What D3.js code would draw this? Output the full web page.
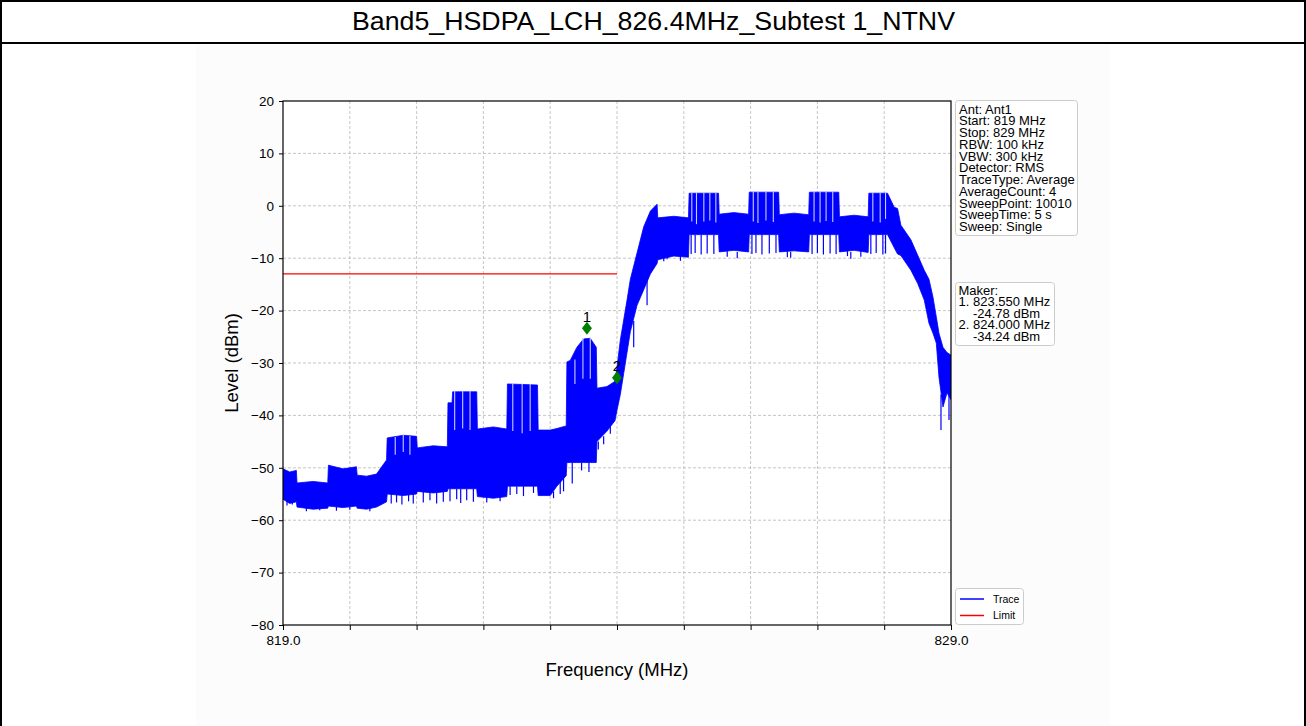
<!DOCTYPE html>
<html><head><meta charset="utf-8">
<script src="https://cdn.jsdelivr.net/npm/d3@7"></script>
<style>body{margin:0;background:#fff} svg{display:block} text{font-family:"Liberation Sans",Arial,Helvetica,sans-serif}</style>
</head><body><svg id="c" width="1306" height="726"></svg>
<script>
const titleText = "Band5_HSDPA_LCH_826.4MHz_Subtest 1_NTNV";
const xDomain = [819, 829];
const yDomain = [-80, 20];
const xTickVals = [819,820,821,822,823,824,825,826,827,828,829];
const xTickLabels = {819:"819.0", 829:"829.0"};
const yTickVals = [-80,-70,-60,-50,-40,-30,-20,-10,0,10,20];

// trace envelope (max / min of the dense trace)
const traceFreq = [819.00,819.10,819.20,819.21,819.45,819.67,819.68,819.90,820.10,820.11,820.25,820.40,820.55,820.56,820.80,821.00,821.01,821.25,821.46,821.47,821.53,821.54,821.90,821.91,822.15,822.35,822.36,822.81,822.82,823.00,823.10,823.24,823.25,823.30,823.40,823.50,823.60,823.69,823.70,823.85,823.97,824.00,824.05,824.10,824.15,824.20,824.30,824.40,824.50,824.60,824.61,824.85,825.07,825.08,825.52,825.53,825.75,825.97,825.98,826.42,826.43,826.65,826.87,826.88,827.32,827.33,827.55,827.76,827.77,828.05,828.15,828.20,828.25,828.40,828.50,828.60,828.67,828.73,828.78,828.82,828.88,828.94,829.00];
const traceHi = [-50.2,-50.8,-50.5,-52.9,-52.6,-52.9,-49.5,-50.2,-49.8,-51.4,-51.6,-51.2,-48.5,-44.3,-43.8,-44.0,-46.2,-45.8,-46.0,-37.6,-37.6,-35.5,-35.5,-42.6,-42.2,-42.6,-34.0,-34.2,-42.8,-42.8,-42.5,-42.0,-29.8,-29.5,-27.0,-25.4,-25.3,-27.0,-34.8,-34.5,-33.5,-30.8,-25.6,-21.8,-18.0,-14.0,-9.0,-4.0,-1.0,0.3,-2.3,-2.0,-2.3,2.4,2.4,-1.6,-1.3,-1.6,2.6,2.6,-1.7,-1.4,-1.7,2.6,2.6,-2.1,-1.8,-2.1,2.4,2.4,-0.3,-0.5,-3.7,-6.5,-9.4,-12.3,-14.0,-17.4,-21.2,-24.3,-27.0,-28.0,-28.5];
const traceLo = [-56.0,-56.8,-56.5,-57.5,-57.9,-57.7,-57.3,-57.6,-57.3,-57.7,-57.9,-57.5,-56.5,-55.0,-55.3,-55.0,-54.5,-54.8,-54.5,-54.0,-54.0,-54.0,-54.0,-55.5,-55.8,-55.5,-53.5,-53.5,-55.3,-55.3,-53.5,-51.5,-49.0,-49.0,-49.0,-49.0,-49.0,-49.0,-45.0,-43.0,-41.0,-39.0,-36.0,-32.0,-28.0,-24.0,-19.0,-16.0,-13.0,-11.0,-10.3,-9.6,-9.8,-5.5,-5.5,-8.8,-8.5,-8.8,-5.5,-5.5,-8.8,-8.6,-8.8,-5.5,-5.5,-8.8,-8.5,-8.9,-5.5,-5.5,-8.0,-9.2,-9.5,-12.3,-14.8,-18.0,-22.4,-24.3,-26.2,-32.7,-38.4,-35.7,-37.0];

// downward dropouts of the trace
const spikeFreq = [819.06,819.14,820.62,820.70,820.78,820.88,820.95,821.10,821.20,821.30,821.40,821.50,821.60,821.66,821.75,821.85,822.40,822.50,822.60,822.75,823.05,823.15,823.20,823.33,823.47,823.58,823.72,823.80,823.90,824.25,824.45,825.11,825.17,825.26,825.35,825.45,826.02,826.08,826.17,826.28,826.38,826.92,827.00,827.09,827.19,827.28,827.80,827.88,827.98,828.02,824.75,825.80,826.60,827.50,828.85,828.97,819.35,819.55,819.80,820.00,820.30,822.05,822.25,824.70,824.95,825.65,826.55,827.45,827.65];
const spikeTop = [-56.0,-56.3,-55,-55,-55,-55,-55,-54.5,-54.5,-54.5,-54.5,-54,-54,-54,-54,-54,-53.5,-53.5,-53.5,-53.5,-54.5,-52.5,-52,-49,-49,-49,-45,-44,-42,-22,-14,-5.5,-5.5,-5.5,-5.5,-5.5,-5.5,-5.5,-5.5,-5.5,-5.5,-5.5,-5.5,-5.5,-5.5,-5.5,-5.5,-5.5,-5.5,-5.5,-9.5,-8.8,-8.8,-8.8,-36,-36,-57.5,-57.5,-57.3,-57.3,-57.6,-55.5,-55.5,-9.5,-9.6,-8.6,-8.6,-8.6,-8.6];
const spikeBottom = [-57.2,-57.0,-56.8,-56.6,-57.0,-56.4,-56.8,-56.6,-56.2,-56.8,-56.5,-56.4,-56.0,-56.7,-56.2,-56.5,-55.2,-55.0,-55.4,-54.8,-55.8,-55.0,-54.5,-53.0,-50.5,-50.8,-46.5,-45.5,-43.5,-27,-19,-9.2,-9.0,-9.3,-9.1,-9.2,-9.2,-9.0,-9.3,-9.1,-9.0,-9.2,-9.0,-9.3,-9.1,-9.2,-9.2,-9.0,-9.3,-9.1,-10.2,-10.0,-9.9,-10.1,-42.8,-40.9,-58.3,-58.1,-58.2,-58.0,-58.3,-56.6,-56.4,-10.6,-10.5,-9.7,-9.8,-9.6,-9.7];

// short gaps of the burst tops
const gapFreq = [820.68,820.80,820.90,821.57,821.69,821.80,822.44,822.58,822.70,823.37,823.49,823.60,825.12,825.19,825.30,825.39,825.48,826.04,826.11,826.23,826.34,826.95,827.04,827.13,827.23,827.83,827.94,828.02];
const gapTop = [-44.3,-43.8,-44.1,-35.5,-35.5,-35.5,-34.0,-34.1,-34.2,-29.5,-25.4,-25.3,2.4,2.4,2.4,2.4,2.4,2.6,2.6,2.6,2.6,2.6,2.6,2.6,2.6,2.4,2.4,2.4];
const gapBottom = [-47.5,-47.0,-47.5,-42.8,-42.5,-42.8,-43.0,-43.4,-43.0,-34.0,-33.0,-33.0,-3.0,-3.5,-3.0,-2.8,-3.2,-3.0,-3.3,-2.8,-3.1,-3.0,-3.2,-2.9,-3.1,-3.0,-3.2,-2.5];

const limitFreq = [819, 824];
const limitVal = [-13, -13];

const markerFreq = [823.55, 824.0];
const markerVal = [-24.78, -34.24];
const markerName = ["1", "2"];

const infoLines = ["Ant: Ant1","Start: 819 MHz","Stop: 829 MHz","RBW: 100 kHz","VBW: 300 kHz","Detector: RMS","TraceType: Average","AverageCount: 4","SweepPoint: 10010","SweepTime: 5 s","Sweep: Single"];
const legendNames = ["Trace", "Limit"];
const legendColors = ["#0000ff", "#ff0000"];

const svg = d3.select("#c");
const W = 1306, H = 726;

// page frame & title
svg.append("rect").attr("x",0).attr("y",0).attr("width",W).attr("height",H).attr("fill","#fff");
svg.append("rect").attr("x",196).attr("y",45).attr("width",914).attr("height",H-45).attr("fill","#fcfcfc");
svg.append("line").attr("x1",0).attr("x2",W).attr("y1",1).attr("y2",1).attr("stroke","#000").attr("stroke-width",2);
svg.append("line").attr("x1",0).attr("x2",W).attr("y1",43).attr("y2",43).attr("stroke","#000").attr("stroke-width",2);
svg.append("line").attr("x1",1).attr("x2",1).attr("y1",0).attr("y2",H).attr("stroke","#000").attr("stroke-width",2);
svg.append("line").attr("x1",W-1).attr("x2",W-1).attr("y1",0).attr("y2",H).attr("stroke","#000").attr("stroke-width",2);
svg.append("text").attr("x",653.5).attr("y",30).attr("text-anchor","middle").attr("font-size",25)
  .attr("textLength",603).attr("lengthAdjust","spacingAndGlyphs").attr("fill","#000").text(titleText);

const L = 283, R = 951, T = 101, B = 625;
const x = d3.scaleLinear(xDomain, [L, R]);
const y = d3.scaleLinear(yDomain, [B, T]);

svg.append("rect").attr("x",L).attr("y",T).attr("width",R-L).attr("height",B-T).attr("fill","#fff");

// grid
const grid = svg.append("g").attr("stroke","#b8b8b8").attr("stroke-width",0.8).attr("stroke-dasharray","3,2");
grid.selectAll("line.v").data(xTickVals.slice(1,-1)).join("line")
  .attr("x1",d=>x(d)).attr("x2",d=>x(d)).attr("y1",T).attr("y2",B);
grid.selectAll("line.h").data(yTickVals.slice(1,-1)).join("line")
  .attr("y1",d=>y(d)).attr("y2",d=>y(d)).attr("x1",L).attr("x2",R);

// trace
const pts = traceFreq.map((f,i)=>({f, hi:traceHi[i], lo:traceLo[i]}));
svg.append("clipPath").attr("id","pc").append("rect").attr("x",L).attr("y",T).attr("width",R-L).attr("height",B-T);
const pg = svg.append("g").attr("clip-path","url(#pc)");
pg.append("path").datum(pts).attr("fill","#0000ff").attr("stroke","#0000ff").attr("stroke-width",0.8)
  .attr("d", d3.area().x(d=>x(d.f)).y0(d=>y(d.lo)).y1(d=>y(d.hi)));
pg.selectAll("line.spike").data(spikeFreq).join("line").attr("class","spike")
  .attr("x1",d=>x(d)).attr("x2",d=>x(d)).attr("y1",(d,i)=>y(spikeTop[i])).attr("y2",(d,i)=>y(spikeBottom[i]))
  .attr("stroke","#0000ff").attr("stroke-width",1.2);
pg.selectAll("line.gap").data(gapFreq).join("line").attr("class","gap")
  .attr("x1",d=>x(d)).attr("x2",d=>x(d)).attr("y1",(d,i)=>y(gapTop[i])-1).attr("y2",(d,i)=>y(gapBottom[i]))
  .attr("stroke","#c8ccff").attr("stroke-width",1.1);

// limit
pg.append("path").datum(limitFreq.map((f,i)=>[f,limitVal[i]])).attr("fill","none").attr("stroke","#ff0000").attr("stroke-width",1.2)
  .attr("d", d3.line().x(d=>x(d[0])).y(d=>y(d[1])));

// markers
const mk = svg.append("g");
markerFreq.forEach((f,i)=>{
  const cx = x(f), cy = y(markerVal[i]) - 7.5;
  mk.append("path").attr("d",`M${cx},${cy-6.5}L${cx+5},${cy}L${cx},${cy+6.5}L${cx-5},${cy}Z`).attr("fill","#008000");
  mk.append("text").attr("x",cx).attr("y",cy-6.5).attr("text-anchor","middle").attr("font-size",15).attr("fill","#000").text(markerName[i]);
});

// frame
svg.append("rect").attr("x",L).attr("y",T).attr("width",R-L).attr("height",B-T).attr("fill","none").attr("stroke","#000").attr("stroke-width",1.2);

// axes
const fmtY = d => d < 0 ? "\u2212" + Math.abs(d) : String(d);
const ya = svg.append("g").attr("transform",`translate(${L},0)`)
  .call(d3.axisLeft(y).tickValues(yTickVals).tickSize(4).tickPadding(5).tickFormat(fmtY));
ya.select(".domain").remove();
ya.selectAll("text").attr("font-size",13.5).attr("font-family","Liberation Sans, Arial, sans-serif").attr("fill","#000");
const xa = svg.append("g").attr("transform",`translate(0,${B})`)
  .call(d3.axisBottom(x).tickValues(xTickVals).tickSize(5).tickPadding(5).tickFormat(d=>xTickLabels[d]||""));
xa.select(".domain").remove();
xa.selectAll("text").attr("font-size",13.5).attr("font-family","Liberation Sans, Arial, sans-serif").attr("fill","#000");

svg.append("text").attr("transform",`translate(232,${(T+B)/2}) rotate(-90)`).attr("text-anchor","middle").attr("dy","0.35em")
  .attr("font-size",18.5).text("Level (dBm)");
svg.append("text").attr("x",(L+R)/2).attr("y",670).attr("text-anchor","middle").attr("dy","0.35em")
  .attr("font-size",18.5).text("Frequency (MHz)");

// info box
const ib = svg.append("g");
ib.append("rect").attr("x",955.5).attr("y",100.5).attr("width",122).attr("height",135).attr("rx",3)
  .attr("fill","#fff").attr("stroke","#cccccc");
ib.selectAll("text").data(infoLines).join("text").attr("x",959).attr("y",(d,i)=>113.5+i*11.75)
  .attr("font-size",13).attr("fill","#000").text(d=>d);

// marker box
const markerLines = ["Maker:"];
markerFreq.forEach((f,i)=>{ markerLines.push(`${i+1}. ${f.toFixed(3)} MHz`); markerLines.push(`    ${markerVal[i].toFixed(2)} dBm`); });
const mb = svg.append("g");
mb.append("rect").attr("x",955.5).attr("y",282.5).attr("width",99).attr("height",63).attr("rx",3)
  .attr("fill","#fff").attr("stroke","#cccccc");
mb.selectAll("text").data(markerLines).join("text").attr("x",958.5).attr("y",(d,i)=>294.5+i*11.6)
  .attr("font-size",13).attr("fill","#000").attr("xml:space","preserve").style("white-space","pre").text(d=>d);

// legend
const lg = svg.append("g");
lg.append("rect").attr("x",955.5).attr("y",588.5).attr("width",68).attr("height",36).attr("rx",3)
  .attr("fill","#fff").attr("stroke","#cccccc");
legendNames.forEach((n,i)=>{
  const ly = 599 + i*16.5;
  lg.append("line").attr("x1",960).attr("x2",984).attr("y1",ly).attr("y2",ly).attr("stroke",legendColors[i]).attr("stroke-width",1.5);
  lg.append("text").attr("x",993).attr("y",ly).attr("dy","0.35em").attr("font-size",10.5).attr("fill","#000").text(n);
});
</script></body></html>
